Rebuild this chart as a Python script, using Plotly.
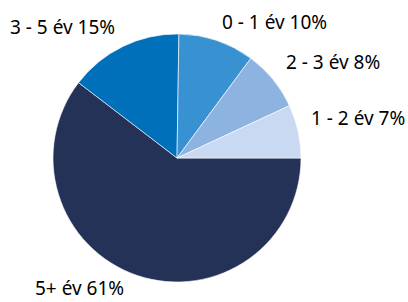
import plotly.graph_objects as go

# slices listed clockwise, starting at 3 o'clock
labels = ["5+ év", "3 - 5 év", "0 - 1 év", "2 - 3 év", "1 - 2 év"]
values = [61, 15, 10, 8, 7]
colors = ["#243258", "#0070bb", "#3891d0", "#8db4e0", "#c8d9f1"]

# label anchor positions (pixels, left edge / vertical middle)
label_pos = {
    "1 - 2 év": (310, 118),
    "2 - 3 év": (285, 62),
    "0 - 1 év": (221, 22),
    "3 - 5 év": (9, 27),
    "5+ év": (34, None),
}

W, H = 408, 302
cx, cy, r = 177, 158, 124

fig = go.Figure(go.Pie(
    labels=labels, values=values, sort=False,
    direction="clockwise", rotation=90,
    marker=dict(colors=colors, line=dict(color="rgba(255,255,255,0.6)", width=1)),
    textinfo="none", hoverinfo="label+percent",
    domain=dict(x=[(cx - r) / W, (cx + r) / W], y=[(H - cy - r) / H, (H - cy + r) / H]),
    showlegend=False,
))

for lab, val in zip(labels, values):
    x, y = label_pos[lab]
    if y is None:
        yy, anchor = 0, "bottom"
    else:
        yy, anchor = 1 - y / H, "middle"
    fig.add_annotation(
        text=f"{lab} {val}%", x=x / W, y=yy, xref="paper", yref="paper",
        xanchor="left", yanchor=anchor, showarrow=False, borderpad=0,
        font=dict(family="Noto Sans", size=19, color="#000000"),
    )

fig.update_layout(
    width=W, height=H, margin=dict(l=0, r=0, t=0, b=0),
    paper_bgcolor="white", plot_bgcolor="white",
)
fig.write_html("out.html", config={"displayModeBar": False},
               post_script="document.body.style.margin='0px';")
